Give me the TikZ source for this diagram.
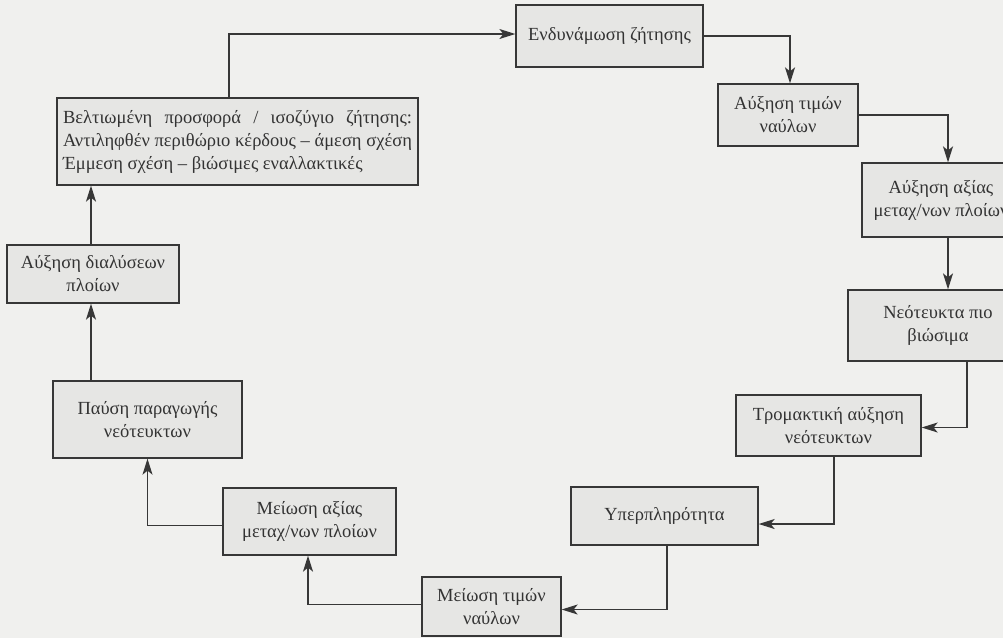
\documentclass[tikz,border=0pt]{standalone}
\usepackage{fontspec}
\setmainfont{Liberation Serif}
\usetikzlibrary{arrows.meta}
\definecolor{bgcol}{RGB}{240,240,238}
\definecolor{boxcol}{RGB}{230,230,228}
\definecolor{linecol}{RGB}{55,55,55}
\newcommand{\bigfont}{\fontsize{18.5}{23}\selectfont}
\begin{document}
\begin{tikzpicture}[x=1pt,y=-1pt,
  box/.style={draw=linecol, fill=boxcol, line width=1.3pt, inner sep=0pt, align=center, font=\bigfont, text=black!80},
  arr/.style={draw=linecol, line width=1.3pt, -{Stealth[length=16pt,width=10pt,inset=4pt]}}]
\useasboundingbox (0,0) rectangle (1003,638);
\clip (0,0) rectangle (1003,638);
\fill[bgcol] (0,0) rectangle (1003,638);
\node[box, minimum width=187pt, minimum height=62pt] (b1) at (609.5,36) {Ενδυνάμωση ζήτησης};
\node[box, minimum width=140pt, minimum height=62pt] (b2) at (788,115) {Αύξηση τιμών\\ναύλων};
\node[box, minimum width=158pt, minimum height=74pt] (b3) at (941,200) {Αύξηση αξίας\\μεταχ/νων πλοίων};
\node[box, minimum width=180pt, minimum height=71pt] (b4) at (938,325.5) {Νεότευκτα πιο\\βιώσιμα};
\node[box, minimum width=185pt, minimum height=61pt] (b5) at (828.5,425.5) {Τρομακτική αύξηση\\νεότευκτων};
\node[box, minimum width=187pt, minimum height=58pt] (b6) at (664.5,516) {Υπερπληρότητα};
\node[box, minimum width=139pt, minimum height=59pt] (b7) at (491.5,606.5) {Μείωση τιμών\\ναύλων};
\node[box, minimum width=173pt, minimum height=67pt] (b8) at (309.5,521.5) {Μείωση αξίας\\μεταχ/νων πλοίων};
\node[box, minimum width=189pt, minimum height=77pt] (b9) at (147.5,419.5) {Παύση παραγωγής\\νεότευκτων};
\node[box, minimum width=172pt, minimum height=58pt] (b10) at (93,274) {Αύξηση διαλύσεων\\πλοίων};
\node[box, minimum width=361pt, minimum height=87pt, align=left] (b11) at (237.5,141.5) {%
\makebox[349pt][s]{Βελτιωμένη προσφορά / ισοζύγιο ζήτησης:}\\
\makebox[349pt][s]{Αντιληφθέν περιθώριο κέρδους – άμεση σχέση}\\
Έμμεση σχέση – βιώσιμες εναλλακτικές};
% connectors
\draw[arr] ([xshift=-8.5pt]b11.north) |- ([yshift=2pt]b1.west);
\draw[arr] (b1.east) -| ([xshift=2pt]b2.north);
\draw[arr] (b2.east) -| ([xshift=7pt]b3.north);
\draw[arr] ([xshift=7pt]b3.south) -- ([xshift=7pt]b3.south |- b4.north);
\draw[arr] ([xshift=29pt]b4.south) |- ([yshift=-2pt]b5.east);
\draw[arr] ([xshift=5.5pt]b5.south) |- ([yshift=-8pt]b6.east);
\draw[arr] ([xshift=2.5pt]b6.south) |- ([yshift=-3pt]b7.east);
\draw[arr] ([yshift=2pt]b7.west) -| ([xshift=-1.5pt]b8.south);
\draw[arr] ([yshift=-4pt]b8.west) -| (b9.south);
\draw[arr] ([xshift=-2pt]b10.south |- b9.north) -- ([xshift=-2pt]b10.south);
\draw[arr] ([xshift=-2pt]b10.north) -- ([xshift=-2pt]b10.north |- b11.south);
\end{tikzpicture}
\end{document}
